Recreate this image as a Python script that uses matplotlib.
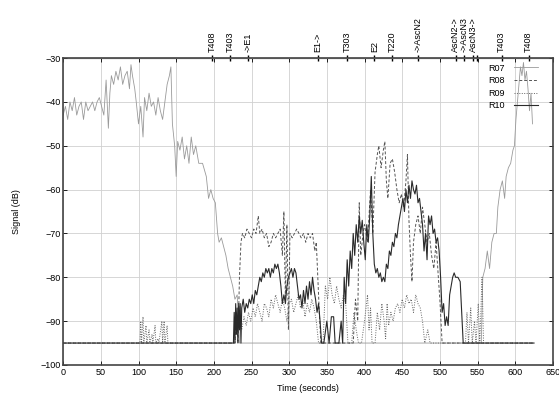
import matplotlib
matplotlib.use('Agg')
import matplotlib.pyplot as plt

# signal traces (time in s, signal in dB)
r07_t = [0, 3, 6, 9, 12, 15, 18, 21, 24, 27, 30, 33, 36, 39, 42, 45, 48, 51, 54, 57,
         60, 62, 64, 67, 70, 73, 76, 79, 82, 85, 88, 90, 92, 95, 97, 100, 103, 106, 108,
         111, 114, 117, 120, 123, 126, 129, 132, 135, 138, 141, 143, 145, 148, 150, 152,
         155, 158, 161, 164, 167, 170, 173, 176, 180, 185, 190, 193, 196, 199, 202, 205,
         207, 210, 213, 216, 219, 222, 225, 228, 231, 234, 555, 557, 560, 563, 566, 569,
         572, 575, 577, 580, 583, 586, 588, 591, 594, 597, 599, 601, 603, 605, 607, 609,
         611, 613, 615, 617, 619, 621, 623]
r07_v = [-43, -41, -44, -40, -42, -39, -43, -41, -40, -44, -40, -42, -41, -40, -42, -40,
         -39, -41, -43, -35, -46, -38, -34, -36, -33, -35, -32, -36, -34, -33, -37, -31.5,
         -34, -37, -40, -45, -41, -48, -39, -42, -38, -41, -40, -43, -39, -42, -44, -40,
         -36, -34, -32, -45, -50, -57, -49, -51, -48, -53, -50, -54, -48, -52, -50, -54,
         -54, -57, -62, -60, -62, -63, -70, -72, -71, -73, -75, -78, -80, -82, -85, -84,
         -95, -95, -80, -78, -74, -78, -72, -70, -70, -64, -60, -58, -62, -57, -55, -54,
         -51, -50, -44, -40, -36, -32, -34, -31, -35, -33, -37, -42, -38, -45]

r08_t = [0, 228, 230, 232, 234, 236, 238, 241, 244, 247, 250, 253, 256, 259, 261, 264,
         267, 270, 273, 276, 279, 282, 285, 288, 291, 293, 295, 297, 299, 301, 304, 307,
         310, 313, 316, 319, 322, 325, 328, 331, 334, 336, 338, 340, 342, 385, 388, 391,
         393, 395, 398, 400, 404, 408, 411, 414, 417, 419, 422, 425, 427, 429, 431, 434,
         437, 440, 443, 446, 449, 452, 455, 457, 459, 461, 463, 465, 468, 471, 474, 477,
         480, 483, 486, 489, 492, 495, 498, 500, 503, 625]
r08_v = [-95, -95, -88, -95, -80, -72, -70, -71, -69, -70, -71, -69, -70, -66, -70, -69,
         -71, -70, -73, -72, -70, -71, -70, -69, -75, -65, -85, -68, -92, -70, -71, -70,
         -69, -70, -71, -70, -72, -70, -71, -70, -74, -72, -80, -88, -95, -95, -85, -90,
         -63, -75, -70, -68, -72, -60, -70, -56, -52, -50, -55, -51, -49, -58, -62, -54,
         -53, -56, -60, -63, -61, -64, -58, -52, -67, -75, -81, -72, -68, -66, -70, -64,
         -68, -72, -70, -75, -78, -72, -80, -85, -95, -95]

r09_t = [0, 102, 103, 104, 106, 107, 110, 111, 114, 115, 118, 119, 122, 123, 126, 127,
         131, 132, 134, 135, 138, 139, 228, 231, 234, 237, 240, 243, 246, 249, 252, 255,
         258, 261, 264, 267, 270, 273, 276, 279, 282, 285, 288, 291, 294, 297, 300, 303,
         306, 309, 312, 315, 318, 321, 324, 327, 330, 333, 336, 339, 345, 348, 351, 354,
         357, 360, 363, 366, 369, 372, 375, 378, 383, 386, 389, 392, 396, 400, 404, 406,
         408, 410, 414, 417, 420, 423, 426, 428, 430, 432, 435, 438, 441, 444, 447, 450,
         453, 456, 459, 462, 465, 468, 471, 474, 477, 480, 484, 487, 534, 536, 538, 541,
         543, 546, 548, 551, 553, 556, 558, 625]
r09_v = [-95, -95, -90, -95, -89, -95, -91, -95, -92, -95, -93, -95, -91, -95, -94, -95,
         -90, -95, -90, -95, -91, -95, -95, -90, -88, -92, -89, -91, -88, -90, -87, -89,
         -86, -88, -90, -86, -87, -89, -85, -87, -84, -86, -88, -85, -87, -90, -86, -85,
         -88, -86, -84, -87, -85, -89, -86, -88, -85, -87, -90, -95, -95, -82, -85, -80,
         -84, -86, -82, -85, -87, -84, -86, -95, -95, -88, -92, -95, -95, -90, -84, -92,
         -87, -95, -95, -88, -92, -86, -90, -94, -86, -91, -88, -90, -87, -86, -88, -85,
         -87, -84, -86, -85, -88, -84, -86, -87, -90, -95, -92, -95, -95, -88, -95, -87,
         -95, -90, -95, -86, -95, -80, -95, -95]

r10_t = [0, 226, 227, 228, 229, 230, 231, 232, 233, 234, 235, 236, 237, 239, 241, 243,
         245, 247, 249, 251, 253, 255, 257, 259, 261, 263, 265, 267, 269, 271, 273, 275,
         277, 279, 281, 283, 285, 287, 289, 291, 293, 295, 297, 299, 301, 303, 305, 307,
         309, 311, 313, 315, 317, 319, 321, 323, 325, 327, 329, 331, 333, 335, 337, 339,
         341, 343, 346, 350, 353, 356, 359, 361, 366, 369, 371, 373, 375, 377, 379, 381,
         383, 385, 387, 389, 391, 393, 395, 397, 399, 401, 403, 405, 407, 409, 411, 413,
         415, 417, 419, 421, 423, 425, 427, 429, 431, 433, 435, 437, 439, 441, 443, 445,
         447, 449, 451, 453, 455, 457, 459, 461, 463, 465, 467, 469, 471, 473, 475, 477,
         479, 481, 483, 485, 487, 489, 491, 493, 495, 497, 499, 501, 503, 505, 507, 509,
         511, 513, 515, 517, 519, 521, 524, 527, 529, 531, 625]
r10_v = [-95, -95, -88, -95, -86, -93, -87, -95, -86, -92, -86, -95, -87, -85, -88, -86,
         -87, -85, -86, -84, -86, -83, -84, -82, -80, -81, -79, -80, -78, -79, -78, -80,
         -78, -79, -77, -78, -77, -79, -82, -86, -84, -86, -82, -80, -79, -78, -80, -78,
         -79, -82, -85, -84, -87, -83, -86, -82, -85, -81, -84, -80, -83, -85, -88, -86,
         -90, -95, -95, -90, -95, -89, -89, -95, -95, -90, -95, -80, -86, -76, -82, -74,
         -78, -70, -75, -68, -72, -66, -70, -67, -72, -76, -68, -72, -66, -57, -70, -77,
         -79, -78, -80, -79, -81, -80, -81, -77, -78, -74, -75, -72, -73, -70, -71, -68,
         -66, -64, -62, -65, -60, -63, -59, -62, -58, -60, -61, -59, -63, -62, -65, -68,
         -74, -70, -76, -66, -68, -66, -70, -69, -72, -71, -74, -80, -88, -86, -91, -89,
         -91, -84, -82, -80, -79, -80, -80, -81, -88, -95, -95]

# events along the top axis (last tick of the cluster is unlabeled)
event_t = [198, 222, 246, 338, 377, 413, 437, 471, 521, 532, 544, 549, 582, 618]
event_lbl = ['T408', 'T403', '->E1', 'E1->', 'T303', 'E2', 'T220', '->AscN2',
             'AscN2->', '->AscN3', 'AscN3->', '', 'T403', 'T408']

plt.rcParams['font.family'] = ['Liberation Sans', 'DejaVu Sans']
plt.rcParams['font.size'] = 6.5

fig = plt.figure(figsize=(5.59, 3.98), dpi=100)
ax = fig.add_axes([0.113, 0.083, 0.876, 0.771])

ax.plot(r07_t, r07_v, color='#9a9a9a', lw=0.6, label='R07')
ax.plot(r08_t, r08_v, color='#555555', lw=0.7, ls=(0, (3, 2)), label='R08')
ax.plot(r09_t, r09_v, color='#666666', lw=0.7, ls=(0, (1, 1.5)), label='R09')
ax.plot(r10_t, r10_v, color='#2a2a2a', lw=0.8, label='R10')

ax.set_xlim(0, 650)
ax.set_ylim(-100, -30)
ax.set_xticks(range(0, 651, 50))
ax.set_yticks(range(-100, -29, 10))
ax.grid(True, color='#d0d0d0', lw=0.6)
ax.tick_params(direction='in', length=3, right=True, top=True, width=0.6, pad=2)
for s in ax.spines.values():
    s.set_color('#444444')
    s.set_linewidth(1.2)
ax.set_xlabel('Time (seconds)', labelpad=5)
ax.set_ylabel('Signal (dB)', labelpad=14)

ax2 = ax.secondary_xaxis('top')
ax2.set_xticks(event_t)
ax2.set_xticklabels(event_lbl, rotation=90)
ax2.tick_params(direction='inout', length=5, width=1.0, pad=2)

ax.legend(loc='upper right', bbox_to_anchor=(0.98, 1.0), frameon=False,
          handlelength=2.6, handletextpad=1.0, labelspacing=0.4,
          borderaxespad=0.2, markerfirst=False)

fig.savefig('out.png', dpi=100)
